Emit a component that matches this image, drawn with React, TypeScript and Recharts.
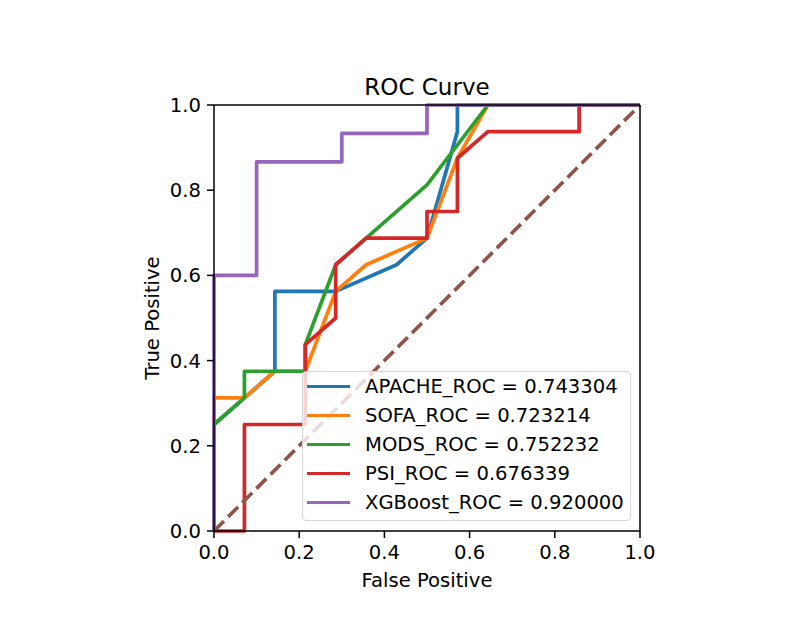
import React from 'react';
import { LineChart, Line, XAxis, YAxis, Legend, ReferenceLine } from 'recharts';

const apacheX = [0, 0, 0.0714, 0.1429, 0.1429, 0.2857, 0.4286, 0.5, 0.5714, 0.5714, 1];
const apacheY = [0, 0.25, 0.3125, 0.375, 0.5625, 0.5625, 0.625, 0.6875, 0.9375, 1, 1];

const sofaX = [0, 0, 0.0714, 0.1429, 0.2143, 0.2857, 0.3571, 0.5, 0.5714, 0.6429, 1];
const sofaY = [0, 0.3125, 0.3125, 0.375, 0.375, 0.5625, 0.625, 0.6875, 0.875, 1, 1];

const modsX = [0, 0, 0.0714, 0.0714, 0.2143, 0.2143, 0.2857, 0.3571, 0.5, 0.6429, 1];
const modsY = [0, 0.25, 0.3125, 0.375, 0.375, 0.4375, 0.625, 0.6875, 0.8125, 1, 1];

const psiX = [0, 0.0714, 0.0714, 0.2143, 0.2143, 0.2857, 0.2857, 0.3571, 0.5, 0.5, 0.5714, 0.5714, 0.6429, 0.8571, 0.8571, 1];
const psiY = [0, 0, 0.25, 0.25, 0.4375, 0.5, 0.625, 0.6875, 0.6875, 0.75, 0.75, 0.875, 0.9375, 0.9375, 1, 1];

const xgbX = [0, 0, 0.1, 0.1, 0.3, 0.3, 0.5, 0.5, 1];
const xgbY = [0, 0.6, 0.6, 0.8667, 0.8667, 0.9333, 0.9333, 1, 1];

const chanceX = [0, 1];
const chanceY = [0, 1];

const seriesNames = ['APACHE_ROC', 'SOFA_ROC', 'MODS_ROC', 'PSI_ROC', 'XGBoost_ROC'];
const aucValues = ['0.743304', '0.723214', '0.752232', '0.676339', '0.920000'];
const seriesColors = ['#1f77b4', '#ff7f0e', '#2ca02c', '#d62728', '#9467bd'];
const chanceColor = '#8c564b';

const axisTicks = [0, 0.2, 0.4, 0.6, 0.8, 1.0];

const zip = (xs: number[], ys: number[]) => xs.map((x, i) => ({ x, y: ys[i] }));

const seriesData = [
  zip(apacheX, apacheY),
  zip(sofaX, sofaY),
  zip(modsX, modsY),
  zip(psiX, psiY),
  zip(xgbX, xgbY),
];
const chanceData = zip(chanceX, chanceY);

const FONT = '"DejaVu Sans", sans-serif';
const FS = 19.6;
const LW = 3.7;

const LegendBox = () => (
  <div
    style={{
      width: 329,
      height: 150,
      boxSizing: 'border-box',
      border: '1px solid #d6d6d6',
      borderRadius: 4,
      background: 'rgba(255,255,255,0.8)',
      fontFamily: FONT,
      fontSize: FS,
      color: '#000',
    }}
  >
    {seriesNames.map((name, i) => (
      <div key={name} style={{ display: 'flex', alignItems: 'center', height: 29 }}>
        <div style={{ marginLeft: 4, width: 43, height: LW, background: seriesColors[i] }} />
        <div style={{ marginLeft: 15, whiteSpace: 'nowrap', lineHeight: '29px' }}>
          {name} = {aucValues[i]}
        </div>
      </div>
    ))}
  </div>
);

export default function App() {
  return (
    <div style={{ position: 'absolute', left: 0, top: 0, width: 800, height: 640, background: '#fff' }}>
      <LineChart
        width={800}
        height={640}
        margin={{ top: 105, right: 160, bottom: 49, left: 154 }}
      >
        <XAxis
          dataKey="x"
          type="number"
          domain={[0, 1]}
          ticks={axisTicks}
          tickFormatter={(v: number) => v.toFixed(1)}
          height={60}
          tickSize={7}
          tickMargin={7}
          axisLine={{ stroke: '#000', strokeWidth: 1.5 }}
          tickLine={{ stroke: '#000', strokeWidth: 1.5 }}
          tick={{ fill: '#000', fontSize: FS, fontFamily: FONT }}
          label={{
            content: (props: any) => {
              const vb = props.viewBox || {};
              return (
                <text
                  x={vb.x + vb.width / 2}
                  y={vb.y + 56}
                  textAnchor="middle"
                  fill="#000"
                  fontSize={FS}
                  fontFamily={FONT}
                >
                  False Positive
                </text>
              );
            },
          }}
        />
        <YAxis
          dataKey="y"
          type="number"
          domain={[0, 1]}
          ticks={axisTicks}
          tickFormatter={(v: number) => v.toFixed(1)}
          width={60}
          tickSize={7}
          tickMargin={6}
          axisLine={{ stroke: '#000', strokeWidth: 1.5 }}
          tickLine={{ stroke: '#000', strokeWidth: 1.5 }}
          tick={{ fill: '#000', fontSize: FS, fontFamily: FONT }}
          label={{
            content: (props: any) => {
              const vb = props.viewBox || {};
              const cx = vb.x + vb.width - 55;
              const cy = vb.y + vb.height / 2;
              return (
                <text
                  x={cx}
                  y={cy}
                  transform={`rotate(-90, ${cx}, ${cy})`}
                  textAnchor="middle"
                  fill="#000"
                  fontSize={FS}
                  fontFamily={FONT}
                >
                  True Positive
                </text>
              );
            },
          }}
        />
        {seriesData.map((d, i) => (
          <Line
            key={seriesNames[i]}
            data={d}
            dataKey="y"
            name={seriesNames[i]}
            type="linear"
            stroke={seriesColors[i]}
            strokeWidth={LW}
            strokeLinejoin="round"
            dot={false}
            activeDot={false}
            isAnimationActive={false}
          />
        ))}
        <Line
          data={chanceData}
          dataKey="y"
          name="chance"
          type="linear"
          stroke={chanceColor}
          strokeWidth={LW}
          strokeDasharray="14 6"
          dot={false}
          activeDot={false}
          legendType="none"
          isAnimationActive={false}
        />
        <ReferenceLine
          y={1}
          stroke="#000"
          strokeWidth={1.5}
          label={{
            content: (props: any) => {
              const vb = props.viewBox || {};
              return (
                <text
                  x={vb.x + vb.width / 2}
                  y={vb.y - 10}
                  textAnchor="middle"
                  fill="#000"
                  fontSize={23}
                  fontFamily={FONT}
                >
                  ROC Curve
                </text>
              );
            },
          }}
        />
        <ReferenceLine x={1} stroke="#000" strokeWidth={1.5} />
        <Legend
          layout="vertical"
          align="center"
          verticalAlign="middle"
          content={() => <LegendBox />}
          wrapperStyle={{ left: 302, top: 371, width: 329, height: 150 }}
        />
      </LineChart>
    </div>
  );
}
